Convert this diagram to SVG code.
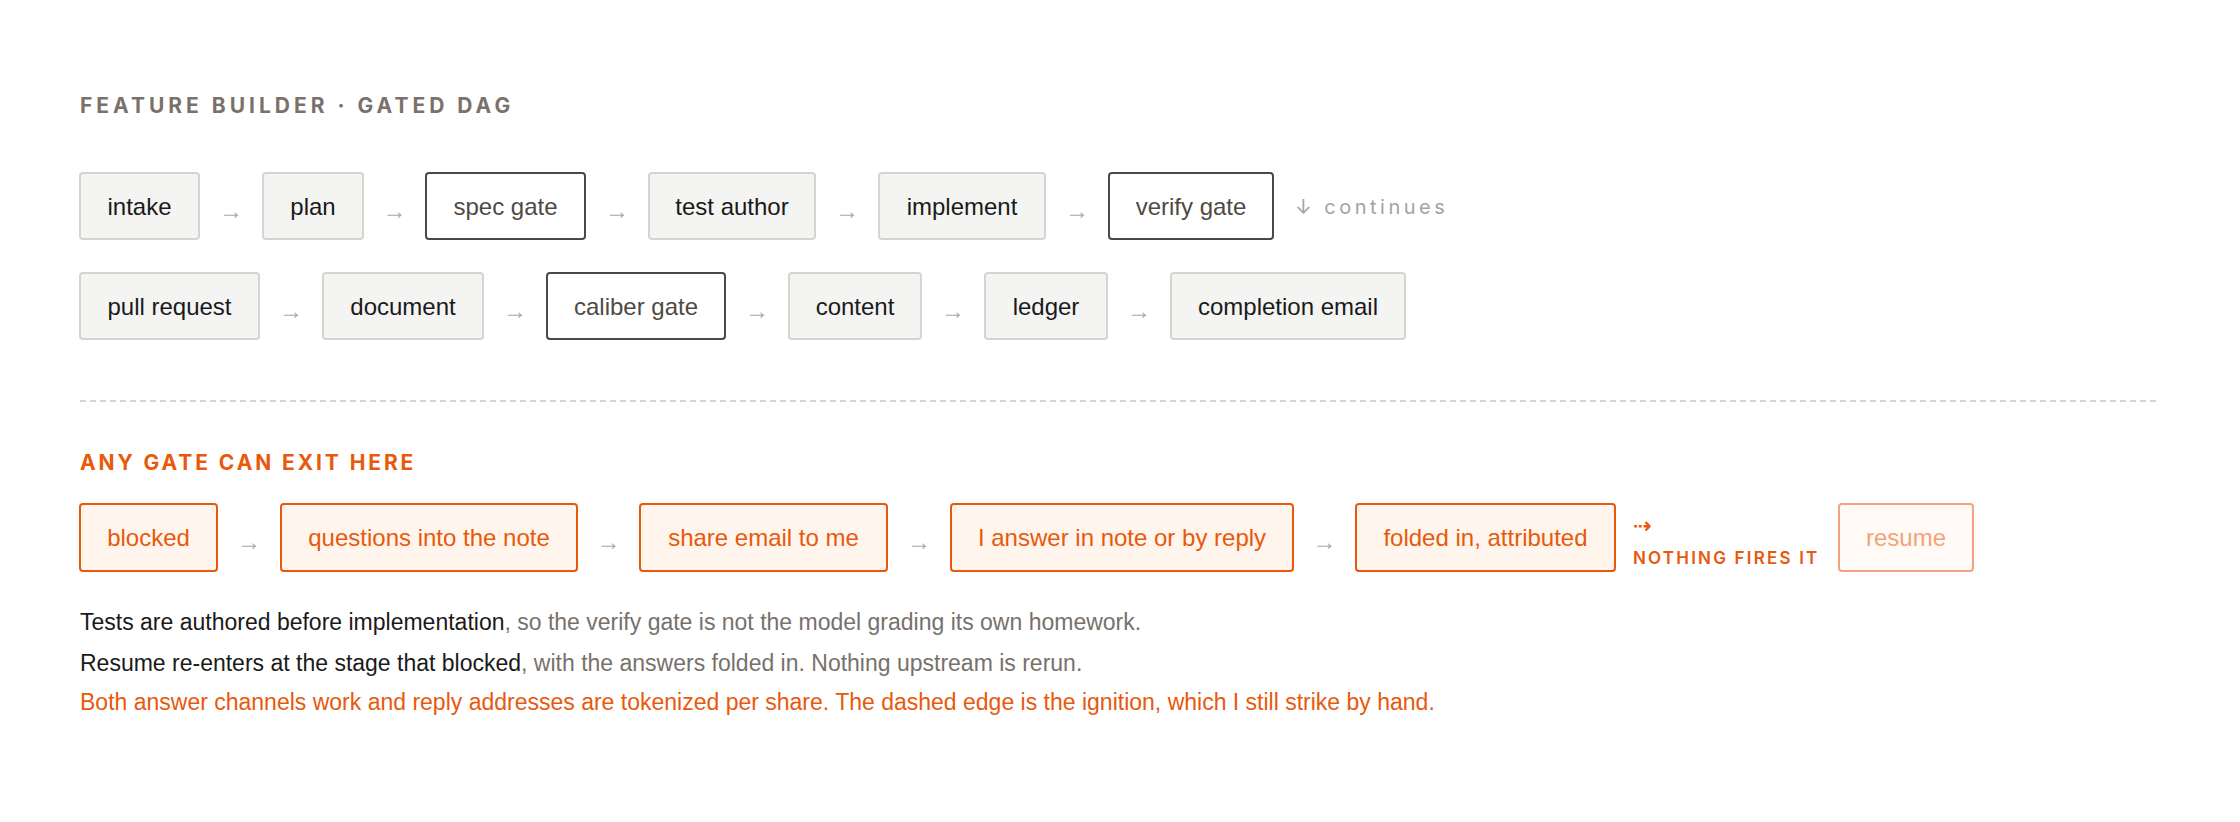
<svg xmlns="http://www.w3.org/2000/svg" width="2240" height="822" viewBox="0 0 2240 822">
<style>
  .bg { fill: #ffffff; }
  .title { font-family: Inter, "Liberation Sans", sans-serif; font-weight: 700; font-size: 21px; letter-spacing: 4px; fill: #7a716a; }
  .sub { font-family: Inter, "Liberation Sans", sans-serif; font-weight: 700; font-size: 21px; letter-spacing: 2.9px; fill: #e8590c; }
  .box rect { fill: #f4f4f2; stroke: #d6d3d0; stroke-width: 2; }
  .box text { font-family: "Liberation Sans", Arial, sans-serif; font-size: 24px; fill: #1a1a1a; text-anchor: middle; }
  .gate rect { fill: #ffffff; stroke: #4d4843; stroke-width: 2; }
  .gate text { font-family: "Liberation Sans", Arial, sans-serif; font-size: 24px; fill: #4f4a45; text-anchor: middle; }
  .exit rect { fill: #fff5ec; stroke: #e8590c; stroke-width: 2; }
  .exit text { font-family: "Liberation Sans", Arial, sans-serif; font-size: 24px; fill: #e8590c; text-anchor: middle; }
  .ghost rect { fill: #fffaf6; stroke: #f4a47c; stroke-width: 2; }
  .ghost text { font-family: "Liberation Sans", Arial, sans-serif; font-size: 24px; fill: #f3a27a; text-anchor: middle; }
  .arr { font-family: "Liberation Sans", "DejaVu Sans", sans-serif; font-size: 24px; fill: #b0aaa5; text-anchor: middle; }
  .cont { font-family: Inter, "Liberation Sans", sans-serif; font-size: 20px; letter-spacing: 3.5px; fill: #a8a29e; }
  .fire { font-family: Inter, "Liberation Sans", sans-serif; font-weight: 600; font-size: 17px; letter-spacing: 2.2px; fill: #e8590c; }
  .dash { font-family: Inter, "DejaVu Sans", sans-serif; font-weight: 700; font-size: 22px; fill: #e8590c; }
  .note { font-family: "Liberation Sans", Arial, sans-serif; font-size: 23px; }
  .strong { fill: #1a1a1a; }
  .muted { fill: #77716b; }
  .warn { fill: #e8590c; }
</style>
<rect class="bg" x="0" y="0" width="2240" height="822"/>

<text class="title" x="80" y="113">FEATURE BUILDER · GATED DAG</text>

<g id="intake" class="box"><rect x="80" y="173" width="119" height="66" rx="3"/><text x="139.5" y="214.5">intake</text></g>
<g id="plan" class="box"><rect x="263" y="173" width="100" height="66" rx="3"/><text x="313" y="214.5">plan</text></g>
<g id="spec-gate" class="gate"><rect x="426" y="173" width="159" height="66" rx="3"/><text x="505.5" y="214.5">spec gate</text></g>
<g id="test-author" class="box"><rect x="649" y="173" width="166" height="66" rx="3"/><text x="732" y="214.5">test author</text></g>
<g id="implement" class="box"><rect x="879" y="173" width="166" height="66" rx="3"/><text x="962" y="214.5">implement</text></g>
<g id="verify-gate" class="gate"><rect x="1109" y="173" width="164" height="66" rx="3"/><text x="1191" y="214.5">verify gate</text></g>
<g id="continues"><text class="cont" x="1295" y="214">↓ continues</text></g>

<g id="pull-request" class="box"><rect x="80" y="273" width="179" height="66" rx="3"/><text x="169.5" y="314.5">pull request</text></g>
<g id="document" class="box"><rect x="323" y="273" width="160" height="66" rx="3"/><text x="403" y="314.5">document</text></g>
<g id="caliber-gate" class="gate"><rect x="547" y="273" width="178" height="66" rx="3"/><text x="636" y="314.5">caliber gate</text></g>
<g id="content" class="box"><rect x="789" y="273" width="132" height="66" rx="3"/><text x="855" y="314.5">content</text></g>
<g id="ledger" class="box"><rect x="985" y="273" width="122" height="66" rx="3"/><text x="1046" y="314.5">ledger</text></g>
<g id="completion-email" class="box"><rect x="1171" y="273" width="234" height="66" rx="3"/><text x="1288" y="314.5">completion email</text></g>

<line x1="80" y1="401" x2="2160" y2="401" stroke="#d4d4d4" stroke-width="2" stroke-dasharray="6 4"/>

<text class="sub" x="80" y="470">ANY GATE CAN EXIT HERE</text>

<g id="blocked" class="exit"><rect x="80" y="504" width="137" height="67" rx="3"/><text x="148.5" y="546">blocked</text></g>
<g id="questions" class="exit"><rect x="281" y="504" width="296" height="67" rx="3"/><text x="429" y="546">questions into the note</text></g>
<g id="share-email" class="exit"><rect x="640" y="504" width="247" height="67" rx="3"/><text x="763.5" y="546">share email to me</text></g>
<g id="answer" class="exit"><rect x="951" y="504" width="342" height="67" rx="3"/><text x="1122" y="546">I answer in note or by reply</text></g>
<g id="folded" class="exit"><rect x="1356" y="504" width="259" height="67" rx="3"/><text x="1485.5" y="546">folded in, attributed</text></g>
<g id="resume" class="ghost"><rect x="1839" y="504" width="134" height="67" rx="3"/><text x="1906" y="546">resume</text></g>

<g id="connectors">
  <text class="arr" x="231" y="219">→</text>
  <text class="arr" x="394.5" y="219">→</text>
  <text class="arr" x="617" y="219">→</text>
  <text class="arr" x="847" y="219">→</text>
  <text class="arr" x="1077" y="219">→</text>
  <text class="arr" x="291" y="319">→</text>
  <text class="arr" x="515" y="319">→</text>
  <text class="arr" x="757" y="319">→</text>
  <text class="arr" x="953" y="319">→</text>
  <text class="arr" x="1139" y="319">→</text>
  <text class="arr" x="249" y="550">→</text>
  <text class="arr" x="608.5" y="550">→</text>
  <text class="arr" x="919" y="550">→</text>
  <text class="arr" x="1324.5" y="550">→</text>
  <text class="dash" x="1633" y="533">⇢</text>
  <text class="fire" x="1633" y="564">NOTHING FIRES IT</text>
</g>

<text class="note" x="80" y="630"><tspan class="strong">Tests are authored before implementation</tspan><tspan class="muted">, so the verify gate is not the model grading its own homework.</tspan></text>
<text class="note" x="80" y="671"><tspan class="strong">Resume re-enters at the stage that blocked</tspan><tspan class="muted">, with the answers folded in. Nothing upstream is rerun.</tspan></text>
<text class="note warn" x="80" y="710">Both answer channels work and reply addresses are tokenized per share. The dashed edge is the ignition, which I still strike by hand.</text>
</svg>
